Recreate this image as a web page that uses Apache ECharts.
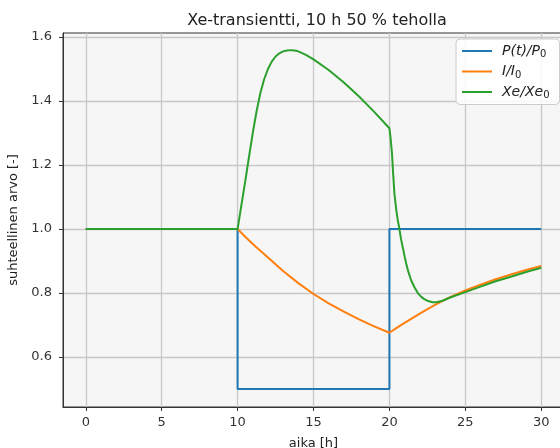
<!DOCTYPE html>
<html><head><meta charset="utf-8">
<script src="https://cdn.jsdelivr.net/npm/echarts@6/dist/echarts.min.js"></script>
<style>html,body{margin:0;padding:0;background:#fff}#c{width:560px;height:448px}</style>
</head><body><div id="c"></div>
<script>
// ---- data ----
const xTicks = [0, 5, 10, 15, 20, 25, 30];
const yTicks = [0.6, 0.8, 1.0, 1.2, 1.4, 1.6];

const powerTime = [0, 10, 10, 20, 20, 30];
const powerValues = [1, 1, 0.5, 0.5, 1, 1];

const iodineTime = [0, 10, 10.5, 11, 12, 13, 14, 15, 16, 17, 18, 19, 20, 20.5, 21, 22, 23, 24, 25, 26, 27, 28, 29, 30];
const iodineValues = [1, 1, 0.976, 0.953, 0.911, 0.869, 0.831, 0.797, 0.768, 0.742, 0.718, 0.696, 0.676,
  0.692, 0.707, 0.736, 0.763, 0.787, 0.808, 0.826, 0.843, 0.858, 0.872, 0.885];

const xenonTime = [0, 10, 10.25, 10.5, 10.75, 11, 11.25, 11.5, 11.75, 12, 12.25, 12.5, 12.75, 13, 13.25, 13.5, 13.75, 14, 14.5, 15,
  16, 17, 18, 19, 20, 20.08, 20.17, 20.25, 20.33, 20.45, 20.55, 20.66, 20.76, 20.87, 21.0, 21.1, 21.25, 21.43, 21.65, 21.87,
  22.1, 22.3, 22.55, 22.85, 23.1, 23.5, 24, 25, 26, 27, 28, 29, 30];
const xenonValues = [1, 1, 1.075, 1.148, 1.225, 1.30, 1.368, 1.425, 1.468, 1.5, 1.523, 1.539, 1.549, 1.555, 1.558, 1.559, 1.558, 1.555, 1.544, 1.53,
  1.497, 1.458, 1.414, 1.366, 1.315, 1.283, 1.236, 1.17, 1.111, 1.06, 1.028, 1.0, 0.97, 0.945, 0.915, 0.893, 0.866, 0.84, 0.818, 0.80,
  0.788, 0.781, 0.775, 0.771, 0.771, 0.776, 0.786, 0.803, 0.82, 0.837, 0.851, 0.866, 0.879];

const seriesNames = ['P(t)/P0', 'I/I0', 'Xe/Xe0'];
const legendMain = ['P(t)/P', 'I/I', 'Xe/Xe'];
const legendSub = ['0', '0', '0'];
const colors = ['#1f77b4', '#ff7f0e', '#2ca02c'];

const zip = (a, b) => a.map((t, i) => [t, b[i]]);
const F = 'DejaVu Sans';

const chart = echarts.init(document.getElementById('c'), null, {renderer: 'canvas'});
chart.setOption({
  animation: false,
  backgroundColor: '#ffffff',
  title: {
    text: 'Xe-transientti, 10 h 50 % teholla',
    left: 312, top: 8, textAlign: 'center',
    textStyle: {fontFamily: F, fontSize: 16, fontWeight: 'normal', color: '#222'}
  },
  grid: {
    left: 63, top: 33, width: 501, height: 374, outerBoundsMode: 'none', containLabel: false,
    show: true, backgroundColor: '#f6f6f6', borderColor: '#333', borderWidth: 1
  },
  legend: {
    orient: 'vertical', left: 456, top: 39,
    padding: [5, 10, 4, 6], itemGap: 5, itemWidth: 30, itemHeight: 2,
    icon: 'path://M0,0h30v2h-30z',
    backgroundColor: 'rgba(255,255,255,0.85)', borderColor: '#cccccc', borderWidth: 1, borderRadius: 4,
    data: seriesNames,
    formatter: n => {
      const i = seriesNames.indexOf(n);
      return '{m|' + legendMain[i] + '}{s|' + legendSub[i] + '}';
    },
    textStyle: {
      padding: [0, 0, 0, 5],
      rich: {
        m: {fontFamily: F, fontStyle: 'italic', fontSize: 14, color: '#222'},
        s: {fontFamily: F, fontSize: 10, color: '#222', padding: [7, 0, 0, 0]}
      }
    }
  },
  xAxis: {
    type: 'value', min: -1.5, max: 31.5,
    name: 'aika [h]', nameLocation: 'middle', nameGap: 30,
    nameTextStyle: {fontFamily: F, fontSize: 13, color: '#222'},
    axisLine: {show: true, onZero: false, lineStyle: {color: '#333'}},
    axisTick: {show: true, customValues: xTicks, length: 4, lineStyle: {color: '#333'}},
    axisLabel: {customValues: xTicks, margin: 9, fontFamily: F, fontSize: 13, color: '#333'},
    splitLine: {show: true, lineStyle: {color: '#c8c8c8', width: 1.3}}
  },
  yAxis: {
    type: 'value', min: 0.444, max: 1.6125,
    name: 'suhteellinen arvo [-]', nameLocation: 'middle', nameGap: 40,
    nameTextStyle: {fontFamily: F, fontSize: 13, color: '#222'},
    axisLine: {show: true, onZero: false, lineStyle: {color: '#333'}},
    axisTick: {show: true, customValues: yTicks, length: 4, lineStyle: {color: '#333'}},
    axisLabel: {customValues: yTicks, margin: 11, fontFamily: F, fontSize: 13, color: '#333',
      formatter: v => v.toFixed(1)},
    splitLine: {show: true, lineStyle: {color: '#c8c8c8', width: 1.3}}
  },
  series: [
    {name: seriesNames[0], type: 'line', data: zip(powerTime, powerValues), symbol: 'none',
      lineStyle: {width: 2, color: colors[0]}, itemStyle: {color: colors[0]}},
    {name: seriesNames[1], type: 'line', data: zip(iodineTime, iodineValues), symbol: 'none',
      lineStyle: {width: 2, color: colors[1]}, itemStyle: {color: colors[1]}},
    {name: seriesNames[2], type: 'line', data: zip(xenonTime, xenonValues), symbol: 'none',
      lineStyle: {width: 2, color: colors[2]}, itemStyle: {color: colors[2]}}
  ]
});
</script></body></html>
